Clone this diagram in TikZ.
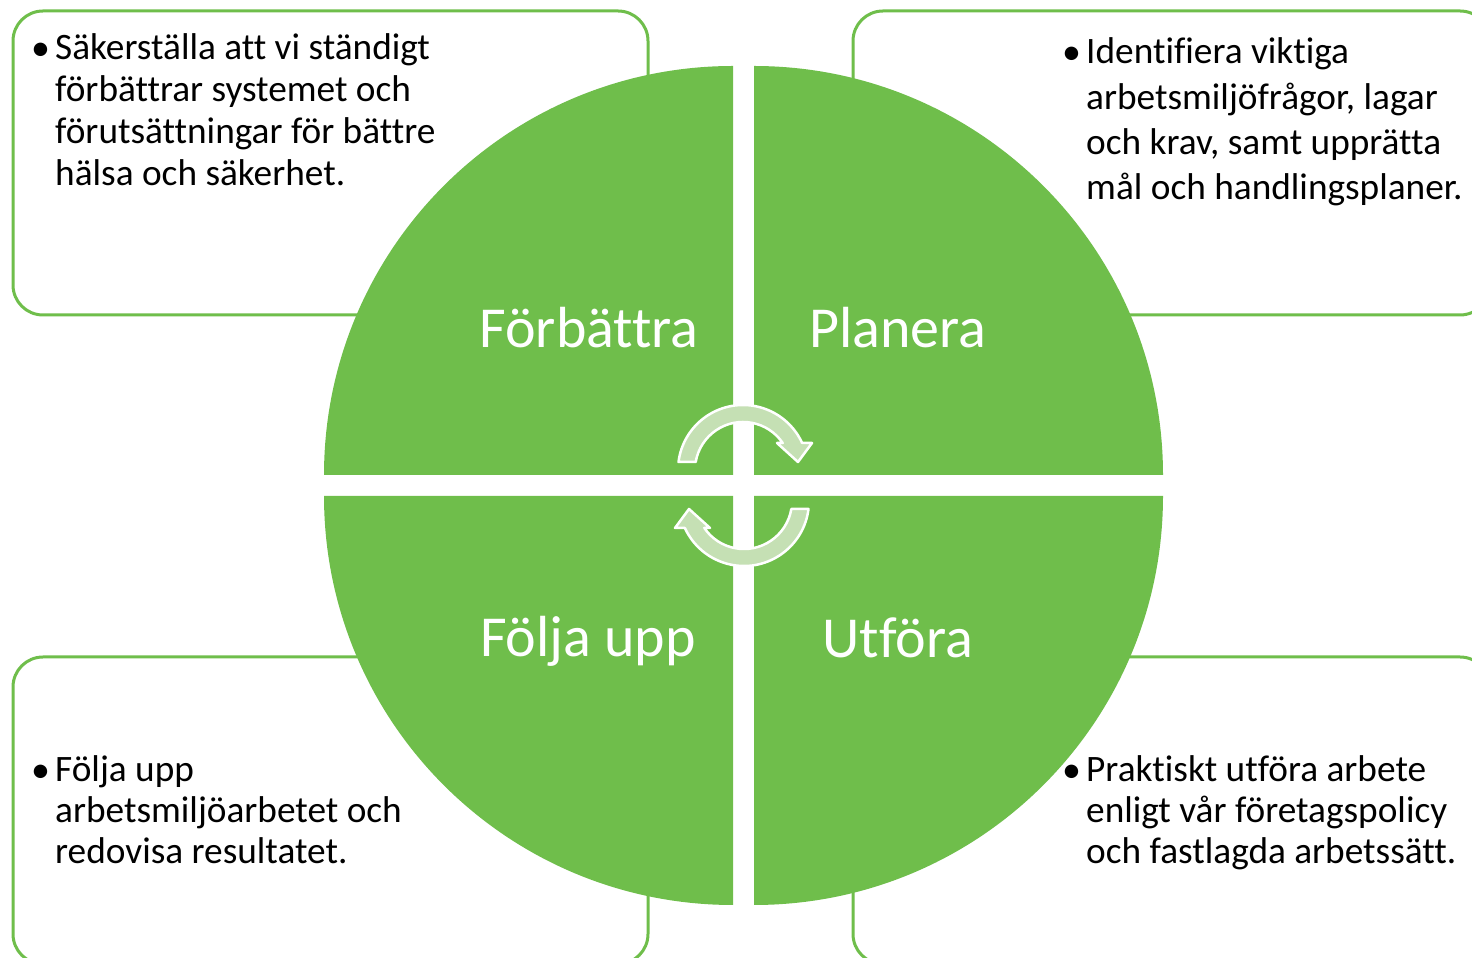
\documentclass[tikz,border=0pt]{standalone}
\usepackage{fontspec}
\setmainfont[Ligatures=NoCommon]{Carlito}
\definecolor{qgreen}{RGB}{111,190,75}
\definecolor{agreen}{RGB}{197,224,180}
\begin{document}
\begin{tikzpicture}[x=1pt,y=1pt,
  boxframe/.style={draw=qgreen, line width=3pt, fill=white, rounded corners=30pt},
  quad/.style={fill=qgreen},
  lbl/.style={text=white, font=\fontsize{58}{62}\selectfont, anchor=base, inner sep=0pt},
  bodytext/.style={font=\fontsize{37.3}{42}\selectfont, anchor=base west, inner sep=0pt},
  bul/.style={font=\fontsize{38}{42}\selectfont, anchor=base west, inner sep=0pt},
  cyc/.style={fill=agreen, draw=white, line width=2.5pt, line join=round}]
\useasboundingbox (0,0) rectangle (1472,958);
\clip (0,0) rectangle (1472,958);
% boxes
\draw[boxframe] (13,947) rectangle (648,643);
\draw[boxframe] (853,947) rectangle (1490,643);
\draw[boxframe] (13,301) rectangle (648,-6);
\draw[boxframe] (853,301) rectangle (1490,-6);
% quadrants
\fill[quad] (733,483) -- (324,483) arc[start angle=180, end angle=90, radius=409] -- cycle;
\fill[quad] (754,483) -- (754,892) arc[start angle=90, end angle=0, radius=409] -- cycle;
\fill[quad] (733,462) -- (733,53) arc[start angle=270, end angle=180, radius=409] -- cycle;
\fill[quad] (754,462) -- (1163,462) arc[start angle=0, end angle=-90, radius=409] -- cycle;
% cycle arrows
\begin{scope}[shift={(743,488)}]
\filldraw[cyc] (-47.3,8) -- (-64.5,8) arc[start angle=172.93, end angle=24.55, radius=65]
  -- (69,27) -- (55,8) -- (34,27) -- (39.7,27) arc[start angle=34.23, end angle=170.41, radius=48] -- cycle;
\end{scope}
\begin{scope}[shift={(744,457)}, rotate=180]
\filldraw[cyc] (-47.3,8) -- (-64.5,8) arc[start angle=172.93, end angle=24.55, radius=65]
  -- (69,27) -- (55,8) -- (34,27) -- (39.7,27) arc[start angle=34.23, end angle=170.41, radius=48] -- cycle;
\end{scope}
% quadrant labels
\node[lbl] (lforb) at (589,610) {Förbättra};
\node[lbl] (lplan) at (898,610) {Planera};
\node[lbl] (lfolj) at (588,301) {Följa upp};
\node[lbl] (lutf) at (898,300) {Utföra};
% top left text
\node[bul] (tlb) at (31,897) {•};
\node[bodytext] (tl1) at (55,898) {Säkerställa att vi ständigt};
\node[bodytext] (tl2) at (55,856) {förbättrar systemet och};
\node[bodytext] (tl3) at (55,814) {förutsättningar för bättre};
\node[bodytext] (tl4) at (55,772) {hälsa och säkerhet.};
% top right text
\node[bul] (trb) at (1062,893) {•};
\node[bodytext] (tr1) at (1086,894) {Identifiera viktiga};
\node[bodytext] (tr2) at (1086,848) {arbetsmiljöfrågor, lagar};
\node[bodytext] (tr3) at (1086,803) {och krav, samt upprätta};
\node[bodytext] (tr4) at (1086,758) {mål och handlingsplaner.};
% bottom left text
\node[bul] (blb) at (31,175) {•};
\node[bodytext] (bl1) at (55,176) {Följa upp};
\node[bodytext] (bl2) at (55,135) {arbetsmiljöarbetet och};
\node[bodytext] (bl3) at (55,94) {redovisa resultatet.};
% bottom right text
\node[bul] (brb) at (1062,175) {•};
\node[bodytext] (br1) at (1086,176) {Praktiskt utföra arbete};
\node[bodytext] (br2) at (1086,135) {enligt vår företagspolicy};
\node[bodytext] (br3) at (1086,94) {och fastlagda arbetssätt.};
\end{tikzpicture}
\end{document}
